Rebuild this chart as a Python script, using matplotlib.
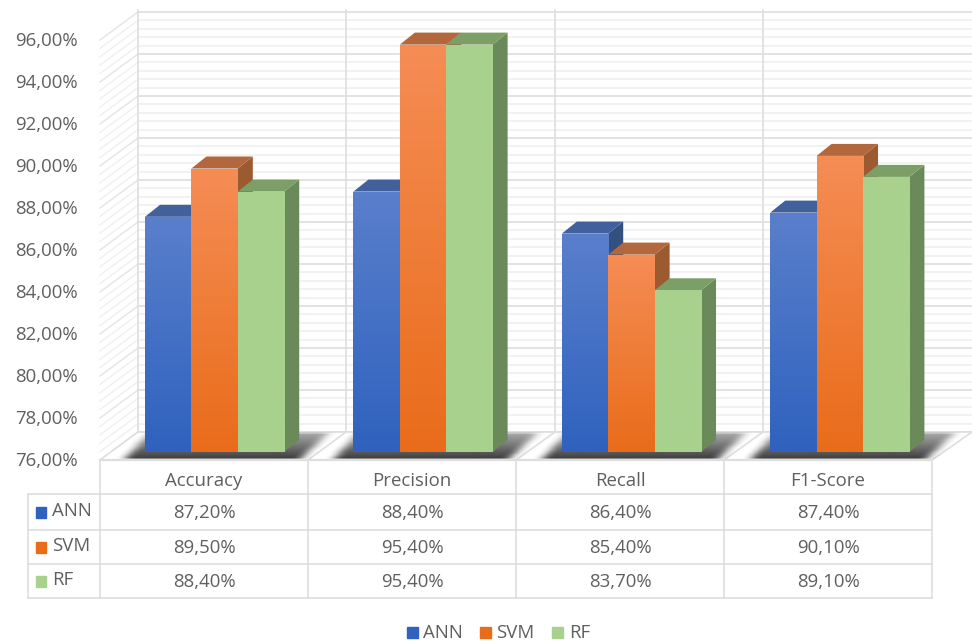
import numpy as np
import matplotlib
matplotlib.use('Agg')
import matplotlib.pyplot as plt
from matplotlib.colors import LinearSegmentedColormap
from matplotlib.patches import Polygon, Rectangle

plt.rcParams['font.family'] = ['Open Sans', 'DejaVu Sans']

# Datos
categories = ['Accuracy', 'Precision', 'Recall', 'F1-Score']
series_names = ['ANN', 'SVM', 'RF']
ann_values = [87.2, 88.4, 86.4, 87.4]
svm_values = [89.5, 95.4, 85.4, 90.1]
rf_values = [88.4, 95.4, 83.7, 89.1]
y_ticks = [76, 78, 80, 82, 84, 86, 88, 90, 92, 94, 96]

W, H = 972, 644
FONT = 13.4
TEXT = '#5F5F5F'
GRID = '#DEDEDE'
GRID_MINOR = '#F0F0F0'

# Escala del plano de las barras, en pixeles por unidad
PX_X = 208.4
PX_Y = 21.0
LEFT = 100.0
BASE = 452.0
DEPTH_X = 15 / PX_X
DEPTH_Y = 12 / PX_Y
BAR_W = 46.4 / PX_X
GROUP_OFFSET = 0.55

# (frente arriba, frente abajo, cara superior, cara lateral)
styles = [
    ('#5A7FCC', '#2F62BE', '#42609B', '#34507F'),
    ('#F58D55', '#E96C1A', '#B2673C', '#9C5A30'),
    ('#A9D18E', '#A9D18E', '#7C9F68', '#6B8A5A'),
]


def fmt(v, decimals=2):
    return f'{v:.{decimals}f}'.replace('.', ',') + '%'


def front_y(v):
    return 460 - (v - 76) * PX_Y


def draw_walls(ax):
    back_x = [138, 346, 555, 763, 972]
    front_x = [100, 308, 516, 724, 932]

    # Lineas menores y mayores del fondo y de la pared izquierda
    for i in range(51):
        v = 76 + i * 0.4
        major = i % 5 == 0
        y = front_y(v)
        ax.plot([138, 972], [y - 28, y - 28], color=GRID if major else GRID_MINOR,
                lw=1.2, zorder=1)
        ax.plot([100, 138], [y, y - 28], color='#E6E6E6' if major else '#F1F1F1',
                lw=1.1, zorder=1)

    for x in back_x[:-1]:
        ax.plot([x, x], [10, 432], color=GRID, lw=1.2, zorder=1)
    ax.add_patch(Polygon([(100, 460), (138, 432), (972, 432), (932, 460)],
                         facecolor='white', edgecolor='none', zorder=1.5))
    for fx, bx in zip(front_x, back_x):
        ax.plot([fx, bx], [460, 432], color=GRID, lw=1.2, zorder=1.6)
    ax.plot([138, 972], [432, 432], color=GRID, lw=1.2, zorder=1.6)


def draw_shadows(ax):
    # Sombra difuminada bajo cada grupo de barras
    yy, xx = np.mgrid[0:H, 0:W]
    mask = np.zeros((H, W))
    for i in range(len(categories)):
        x0 = LEFT + (i + GROUP_OFFSET) * PX_X - 1.5 * BAR_W * PX_X
        x1 = x0 + 3 * BAR_W * PX_X
        t = np.clip((458 - yy) / 26, 0, 1)
        inside = (yy >= 433) & (yy <= 458)
        inside &= (xx >= x0 - 20 + t * 24) & (xx <= x1 + 16 + t * 28)
        strength = 0.45 + 0.55 * np.clip((yy - 433) / 25, 0, 1)
        mask[inside] = strength[inside]
    kernel = np.ones(11) / 11
    for _ in range(2):
        mask = np.apply_along_axis(lambda r: np.convolve(r, kernel, 'same'), 1, mask)
    small = np.ones(3) / 3
    mask = np.apply_along_axis(lambda c: np.convolve(c, small, 'same'), 0, mask)
    img = np.zeros((H, W, 4))
    img[..., :3] = 0.2
    img[..., 3] = mask * 0.95
    ax.imshow(img, extent=(0, W, H, 0), zorder=1.8, interpolation='bilinear', aspect='auto')


def draw_table(ax):
    col_x = [100, 308, 516, 724, 932]
    row_y = [460, 494, 530, 564, 598]
    data = [ann_values, svm_values, rf_values]

    for x in col_x:
        ax.plot([x, x], [row_y[0], row_y[-1]], color=GRID, lw=1.2, zorder=2)
    ax.plot([28, 28], [row_y[1], row_y[-1]], color=GRID, lw=1.2, zorder=2)
    ax.plot([100, 932], [row_y[0], row_y[0]], color=GRID, lw=1.6, zorder=2)
    for y in row_y[1:]:
        ax.plot([28, 932], [y, y], color=GRID, lw=1.2, zorder=2)

    for i, cat in enumerate(categories):
        xc = (col_x[i] + col_x[i + 1]) / 2
        ax.text(xc, 481, cat, ha='center', va='center', fontsize=FONT, color=TEXT)
        for r, values in enumerate(data):
            yc = (row_y[r + 1] + row_y[r + 2]) / 2 + 1
            ax.text(xc, yc, fmt(values[i]), ha='center', va='center', fontsize=FONT, color=TEXT)

    for r, name in enumerate(series_names):
        yc = (row_y[r + 1] + row_y[r + 2]) / 2
        ax.add_patch(Rectangle((36, yc - 5), 10, 11, color=styles[r][1], zorder=3))
        ax.text(52, yc - 1, name, ha='left', va='center', fontsize=FONT, color=TEXT)

    # Leyenda inferior
    for x, tx, name, st in zip([407, 480, 552], [423, 496, 569], series_names, styles):
        ax.add_patch(Rectangle((x, 627), 11, 11, color=st[1], zorder=3))
        ax.text(tx, 633, name, ha='left', va='center', fontsize=FONT, color=TEXT)


def draw_bar(ax, x, value, style):
    top_color, bottom_color, roof, side = style
    bar = ax.bar(x, value - 76, width=BAR_W, bottom=76, align='edge', color=bottom_color, zorder=3)[0]
    right = x + BAR_W

    ax.add_patch(Polygon([(right, 76), (right + DEPTH_X, 76 + DEPTH_Y),
                          (right + DEPTH_X, value + DEPTH_Y), (right, value)],
                         facecolor=side, edgecolor='none', zorder=3))
    ax.add_patch(Polygon([(x, value), (x + DEPTH_X, value + DEPTH_Y),
                          (right + DEPTH_X, value + DEPTH_Y), (right, value)],
                         facecolor=roof, edgecolor='none', zorder=3))

    cmap = LinearSegmentedColormap.from_list('front', [top_color, bottom_color])
    im = ax.imshow(np.linspace(0, 1, 256).reshape(-1, 1), cmap=cmap, aspect='auto',
                   extent=(x, right, 76, value), zorder=3.1, origin='upper',
                   interpolation='bilinear')
    im.set_clip_path(bar)


fig = plt.figure(figsize=(W / 100, H / 100), dpi=100, facecolor='white')

# Ejes en pixeles para paredes, sombra y tabla
back = fig.add_axes([0, 0, 1, 1])
draw_walls(back)
draw_shadows(back)
draw_table(back)
for v in y_ticks:
    back.text(78, front_y(v) + 1, fmt(v), ha='right', va='center', fontsize=FONT, color=TEXT)
back.set_xlim(0, W)
back.set_ylim(H, 0)
back.axis('off')

# Ejes de las barras: x en categorias, y en porcentaje
ax = fig.add_axes([0, 0, 1, 1], facecolor='none')
for i in range(len(categories)):
    x0 = i + GROUP_OFFSET - 1.5 * BAR_W
    values = [ann_values[i], svm_values[i], rf_values[i]]
    for j in [0, 1, 2]:
        draw_bar(ax, x0 + j * BAR_W, values[j], styles[j])
ax.set_xlim(-LEFT / PX_X, (W - LEFT) / PX_X)
ax.set_ylim(76 - (H - BASE) / PX_Y, 76 + BASE / PX_Y)
ax.axis('off')

fig.savefig('out.png', dpi=100)
